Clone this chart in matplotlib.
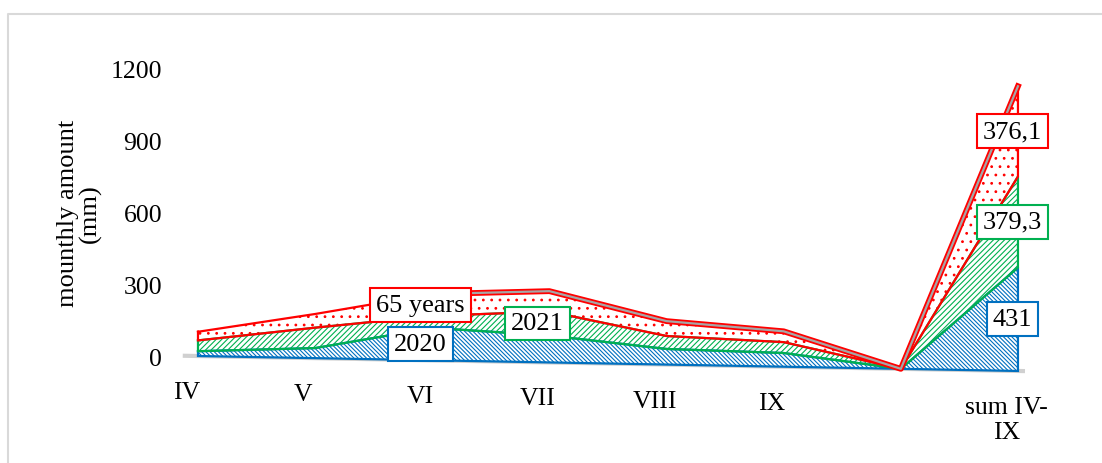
import numpy as np
import matplotlib
matplotlib.use("Agg")
import matplotlib.pyplot as plt
import matplotlib.transforms as mtransforms
from matplotlib.lines import Line2D

plt.rcParams['font.family'] = ['Liberation Serif', 'DejaVu Serif']
plt.rcParams['hatch.linewidth'] = 0.8

# monthly precipitation (mm), stacked as in the original chart
months = ["IV", "V", "VI", "VII", "VIII", "IX", "", "sum IV-\nIX"]
y2020 = [20, 42, 135, 112, 65, 57, 0, 431]
y2021 = [45, 85, 50, 100, 54, 45.3, 0, 379.3]
y65 = [36, 57, 91, 85, 62, 45.1, 0, 376.1]
sum_labels = ["431", "379,3", "376,1"]
series_names = ["2020", "2021", "65 years"]
name_at = [2, 3, 2]          # category where the series name is shown
colors = ["#0070C0", "#00B050", "#FF0000"]
hatches = ["\\" * 8, "/" * 6, ".."]

x = np.arange(len(months))
b1 = np.array(y2020, dtype=float)
b2 = b1 + np.array(y2021)
b3 = b2 + np.array(y65)
bottoms = [np.zeros_like(b1), b1, b2]
tops = [b1, b2, b3]

fig = plt.figure(figsize=(11.02, 4.64), dpi=100)
ax = fig.add_axes([0.1584, 0.1685, 0.7866, 0.7345])
ax.set_xlim(-0.2, 7.2)
ax.set_ylim(-120, 1300)

# slight 3D-like tilt of the floor, as in the Excel chart
trans = mtransforms.Affine2D().skew(0, np.arctan(-8.9)) + ax.transData

# floor line
ax.plot([x[0] - 0.13, x[-1] + 0.06], [0, 0], color="#d0d0d0", lw=3,
        transform=trans, solid_capstyle="butt", zorder=1)

for lo, hi, c, h in zip(bottoms, tops, colors, hatches):
    ax.fill_between(x, lo, hi, facecolor="white", edgecolor=c, hatch=h,
                    lw=0, transform=trans, zorder=2)
    xs = np.concatenate([x, x[::-1], x[:1]])
    ys = np.concatenate([hi, lo[::-1], hi[:1]])
    ax.plot(xs, ys, color=c, lw=1.6, transform=trans, zorder=3,
            solid_joinstyle="miter")

# top surface of the red series (visible from VI on)
ax.plot(x[2:], b3[2:], color="#FF0000", lw=4.2, transform=trans, zorder=4)
ax.plot(x[2:], b3[2:], color="#a6a6a6", lw=1.6, transform=trans, zorder=5)

# labels
for i in range(3):
    lo, hi = bottoms[i], tops[i]
    k = name_at[i]
    ax.text(k - 0.1, (lo[k] + hi[k]) / 2, series_names[i], transform=trans,
            ha="center", va="center", fontsize=19, zorder=6,
            bbox=dict(boxstyle="square,pad=0.22", fc="white", ec=colors[i], lw=1.5))
    ax.text(x[-1] - 0.05, (lo[-1] + hi[-1]) / 2, sum_labels[i], transform=trans,
            ha="center", va="center", fontsize=19, zorder=6,
            bbox=dict(boxstyle="square,pad=0.22", fc="white", ec=colors[i], lw=1.5))

for i, m in enumerate(months):
    ax.text(i - 0.1, -105, m, transform=trans, ha="center", va="top",
            fontsize=18.5, linespacing=1.15)

ax.set_xticks([])
ax.set_yticks(np.arange(0, 1201, 300))
ax.tick_params(axis="y", length=0, pad=9, labelsize=18.5)
for s in ax.spines.values():
    s.set_visible(False)

fig.text(0.072, 0.54, "mounthly amount\n(mm)", rotation=90, ha="center",
         va="center", fontsize=19, linespacing=1.0)

# chart area frame (left and top edges only are visible)
fx, fy = 8 / 1102, 1 - 15 / 464
fig.add_artist(Line2D([fx, fx, 1.0], [0.0, fy, fy], transform=fig.transFigure,
                      color="#d9d9d9", lw=1.5))

fig.savefig("out.png", dpi=100)
